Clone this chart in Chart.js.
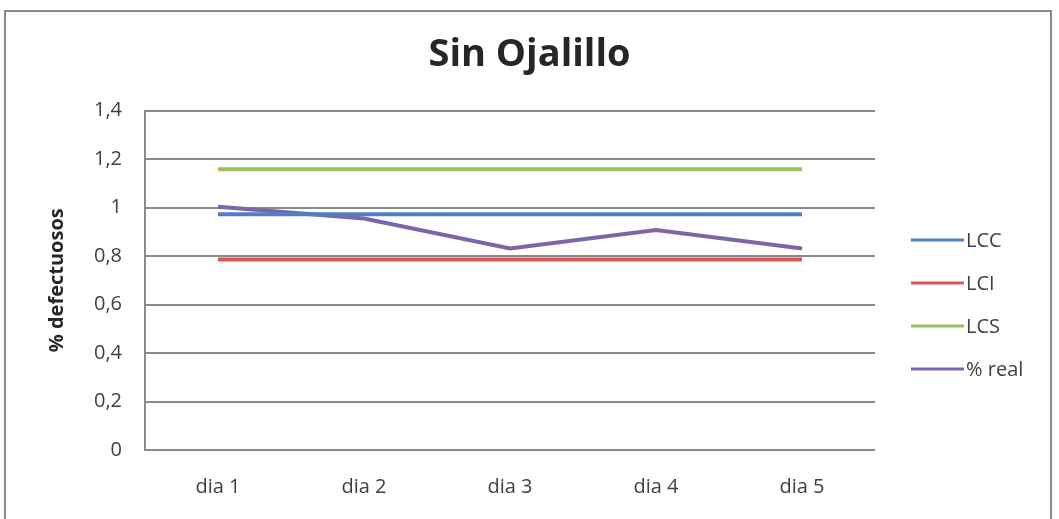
<!DOCTYPE html>
<html>
<head>
<meta charset="utf-8">
<script src="https://cdn.jsdelivr.net/npm/chart.js@4"></script>
<style>
  html, body { margin: 0; padding: 0; background: #ffffff; }
  #wrap { width: 1059px; height: 519px; position: relative; }
</style>
</head>
<body>
<div id="wrap"><canvas id="c" width="1059" height="519"></canvas></div>
<script>
// Categories and series
const dias = ['dia 1', 'dia 2', 'dia 3', 'dia 4', 'dia 5'];
const lcc = [0.972, 0.972, 0.972, 0.972, 0.972];
const lci = [0.786, 0.786, 0.786, 0.786, 0.786];
const lcs = [1.158, 1.158, 1.158, 1.158, 1.158];
const real = [1.003, 0.955, 0.831, 0.907, 0.831];
const yTicks = [0, 0.2, 0.4, 0.6, 0.8, 1, 1.2, 1.4];

const FONT = '"Open Sans", Lato, sans-serif';
const TXT = '#404040';

// Outer frame around the chart
const framePlugin = {
  id: 'frame',
  afterDraw(chart) {
    const ctx = chart.ctx;
    ctx.save();
    ctx.strokeStyle = '#8c8c8c';
    ctx.lineWidth = 2;
    ctx.strokeRect(5, 11, 1046, 530);
    ctx.restore();
  }
};

// Legend column to the right of the plot: short line sample + series name
const sideLegend = {
  id: 'sideLegend',
  afterDraw(chart) {
    const ctx = chart.ctx;
    const x0 = chart.chartArea.right + 36;
    const y0 = 240;
    const step = 43;
    ctx.save();
    ctx.font = '20px ' + FONT;
    ctx.textBaseline = 'middle';
    ctx.textAlign = 'left';
    chart.data.datasets.forEach((d, i) => {
      const y = y0 + i * step;
      ctx.strokeStyle = d.borderColor;
      ctx.lineWidth = 3;
      ctx.beginPath();
      ctx.moveTo(x0, y);
      ctx.lineTo(x0 + 53, y);
      ctx.stroke();
      ctx.fillStyle = TXT;
      ctx.fillText(d.label, x0 + 55, y + 1);
    });
    ctx.restore();
  }
};

function ds(label, data, color) {
  return {
    label, data,
    borderColor: color,
    backgroundColor: color,
    borderWidth: 4,
    pointRadius: 0,
    tension: 0,
    fill: false
  };
}

new Chart(document.getElementById('c'), {
  type: 'line',
  data: {
    labels: dias,
    datasets: [
      ds('LCC', lcc, '#4f7fc4'),
      ds('LCI', lci, '#dc5558'),
      ds('LCS', lcs, '#9cc060'),
      ds('% real', real, '#7c66a8')
    ]
  },
  options: {
    responsive: false,
    animation: false,
    layout: { padding: 0 },
    plugins: {
      title: {
        display: true,
        text: 'Sin Ojalillo',
        color: '#262626',
        font: { family: FONT, size: 38, weight: 'bold' },
        padding: { top: 32, bottom: 33 }
      },
      legend: { display: false },
      tooltip: { enabled: false }
    },
    scales: {
      x: {
        offset: true,
        grid: { display: false, drawTicks: false },
        border: { display: false },
        ticks: { color: TXT, font: { family: FONT, size: 20 }, padding: 25 },
        afterFit(s) { s.height = 69; }
      },
      y: {
        min: 0,
        max: 1.4,
        afterBuildTicks(s) { s.ticks = yTicks.map(v => ({ value: v })); },
        grid: { color: '#8a8a8a', lineWidth: 2, drawTicks: false },
        border: { display: true, color: '#8a8a8a', width: 2 },
        ticks: {
          color: TXT,
          font: { family: FONT, size: 20 },
          padding: 23,
          callback: v => String(v).replace('.', ',')
        },
        title: {
          display: true,
          text: '% defectuosos',
          color: '#262626',
          font: { family: FONT, size: 20, weight: 'bold' },
          padding: { top: 45, bottom: 0 }
        },
        afterFit(s) { s.width = 145; }
      },
      // empty right-hand band that holds the legend column
      side: {
        type: 'linear',
        position: 'right',
        display: true,
        grid: { display: false, drawTicks: false },
        border: { display: false },
        ticks: { display: false },
        afterFit(s) { s.width = 184; }
      }
    }
  },
  plugins: [framePlugin, sideLegend]
});
</script>
</body>
</html>
